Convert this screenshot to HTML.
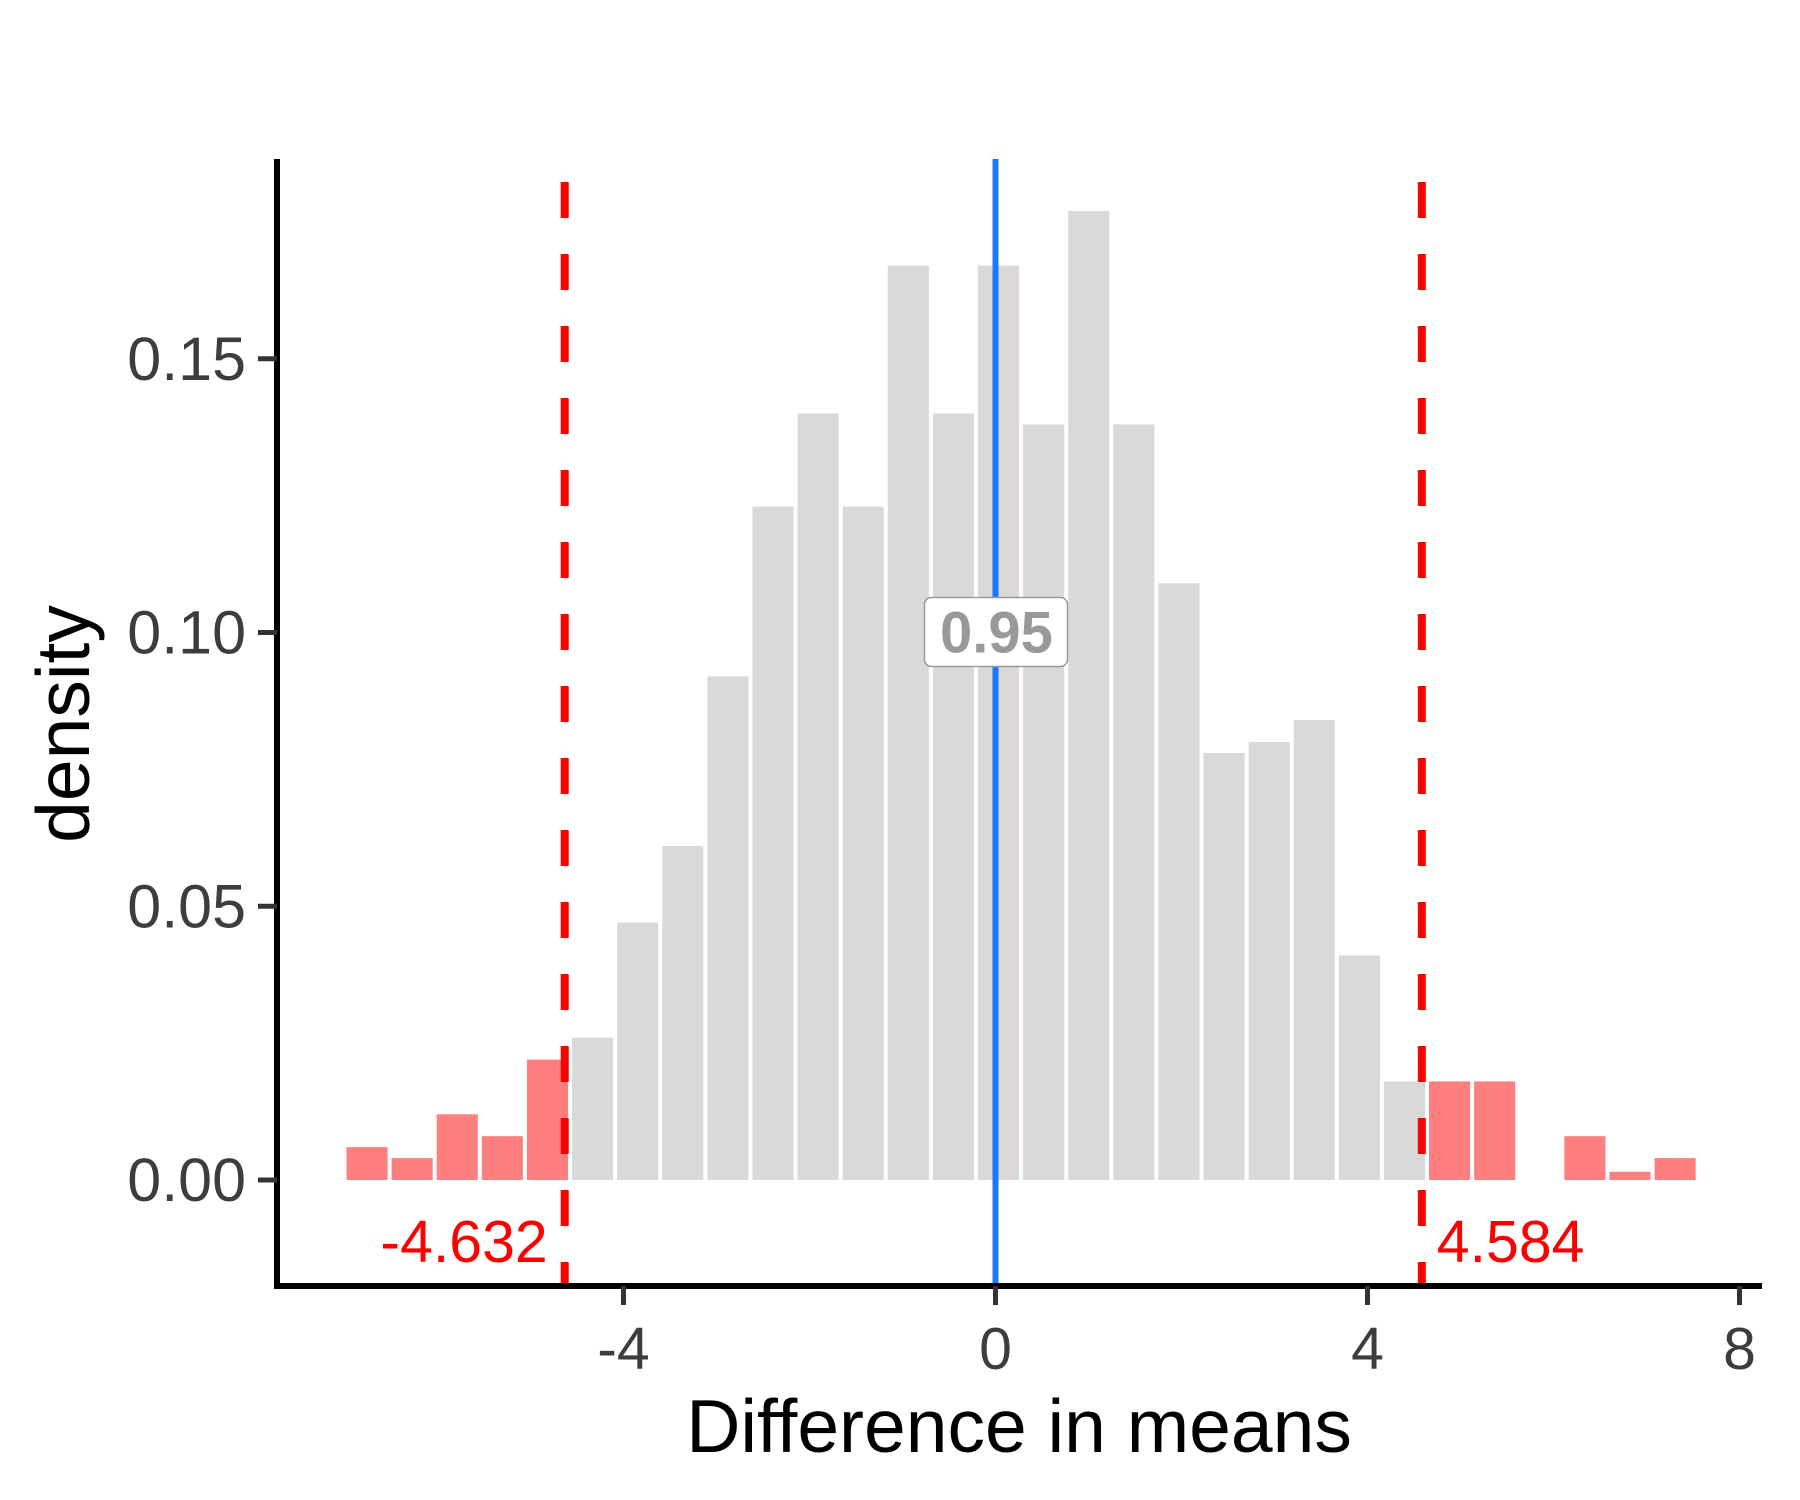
<!DOCTYPE html>
<html><head><meta charset="utf-8"><style>
html,body{margin:0;padding:0;background:#fff;}
svg{display:block;font-family:"Liberation Sans",Arial,sans-serif;}
</style></head><body>
<svg id="chart" width="1800" height="1500" viewBox="0 0 1800 1500" xmlns="http://www.w3.org/2000/svg">
<g id="bars"></g>
<g id="lines"></g>
<g id="axes"></g>
</svg>
<script>
const binStart = -7.0;
const binWidth = 0.485;
const densities = [0.006,0.004,0.012,0.008,0.022,0.026,0.047,0.061,0.092,0.123,0.140,0.123,0.167,0.140,0.167,0.138,0.177,0.138,0.109,0.078,0.080,0.084,0.041,0.018,0.018,0.018,0,0.008,0.0015,0.004];
const xTicks = [-4,0,4,8];
const xTickLabels = ["-4","0","4","8"];
const yTicks = [0,0.05,0.10,0.15];
const yTickLabels = ["0.00","0.05","0.10","0.15"];
const lowerCut = -4.632;
const upperCut = 4.584;
const observed = 0;
const pValue = "0.95";

const NS="http://www.w3.org/2000/svg";
function X(v){return 995.5 + v*93.0;}
function Y(v){return 1180 - v*5475;}
function mk(tag,attrs,parent){const e=document.createElementNS(NS,tag);for(const k in attrs)e.setAttribute(k,attrs[k]);parent.appendChild(e);return e;}
const bars=document.getElementById('bars'),lines=document.getElementById('lines'),axes=document.getElementById('axes');

densities.forEach((d,i)=>{
  const x0=binStart+i*binWidth, x1=x0+binWidth, c=(x0+x1)/2;
  if(d<=0) return;
  const r=mk('rect',{x:X(x0)+2,y:Y(d),width:X(x1)-X(x0)-4,height:Y(0)-Y(d),fill:(c<lowerCut||c>upperCut)?'#ff7f7f':'#d9d9d9'},bars);
  
  
});

[lowerCut,upperCut].forEach((v,i)=>{
  const l=mk('line',{x1:X(v),x2:X(v),y1:182,y2:1285,stroke:'#ff0000','stroke-width':8,'stroke-dasharray':'36 36'},lines);
  
  
});
const bl=mk('line',{x1:X(observed),x2:X(observed),y1:159,y2:1285,stroke:'#1e78ff','stroke-width':6},lines);



const t1=mk('text',{x:X(lowerCut)-17,y:1262,'text-anchor':'end','font-size':59,fill:'#ff0000'},lines);
t1.textContent=lowerCut.toFixed(3);


const t2=mk('text',{x:X(upperCut)+15,y:1262,'text-anchor':'start','font-size':59,fill:'#ff0000'},lines);
t2.textContent=upperCut.toFixed(3);



const bx=mk('rect',{x:X(observed)-71,y:Y(0.10)-35,width:143,height:69,rx:7,fill:'#fff',stroke:'#999','stroke-width':1.5},lines);


const pt=mk('text',{x:X(observed)+1,y:Y(0.10)+20,'text-anchor':'middle','font-size':58,'font-weight':'bold',fill:'#999'},lines);
pt.textContent=pValue;



const ya=mk('line',{x1:277,x2:277,y1:159,y2:1289,stroke:'#000','stroke-width':6},axes);


const xa=mk('line',{x1:274,x2:1762,y1:1286,y2:1286,stroke:'#000','stroke-width':6},axes);



yTicks.forEach((v,i)=>{
  const tk=mk('line',{x1:258,x2:277,y1:Y(v),y2:Y(v),stroke:'#333','stroke-width':5},axes);
  
  
  const tl=mk('text',{x:246,y:Y(v)+21,'text-anchor':'end','font-size':61,fill:'#3d3d3d'},axes);
  tl.textContent=yTickLabels[i];
  
  
});
xTicks.forEach((v,i)=>{
  const tk=mk('line',{x1:X(v),x2:X(v),y1:1286,y2:1305,stroke:'#333','stroke-width':5},axes);
  
  
  const tl=mk('text',{x:X(v),y:1369,'text-anchor':'middle','font-size':59,fill:'#3d3d3d'},axes);
  tl.textContent=xTickLabels[i];
  
  
});
const xt=mk('text',{x:1019,y:1452,'text-anchor':'middle','font-size':75,fill:'#000'},axes);
xt.textContent='Difference in means';


const yt=mk('text',{x:0,y:0,'text-anchor':'middle','font-size':75,fill:'#000',transform:'translate(89,724) rotate(-90)'},axes);
yt.textContent='density';


</script>
</body></html>
